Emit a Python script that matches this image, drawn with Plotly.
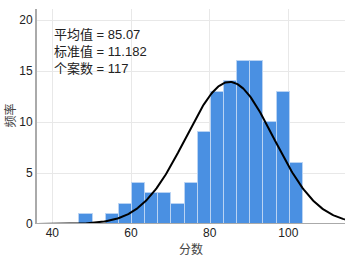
import numpy as np
import plotly.graph_objects as go

# Histogram data
bin_start = 46.9
bin_width = 3.34
counts = [1, 0, 1, 2, 4, 3, 3, 2, 4, 9, 13, 14, 16, 16, 10, 13, 6]

mean_val = 85.07
sd_val = 11.182
n_cases = 117

x_ticks = [40, 60, 80, 100]
y_ticks = [0, 5, 10, 15, 20]

centers = [bin_start + bin_width * (i + 0.5) for i in range(len(counts))]

# Normal curve scaled to histogram
xc = np.linspace(36.1, 114.4, 300)
yc = n_cases * bin_width / (sd_val * np.sqrt(2 * np.pi)) * np.exp(-0.5 * ((xc - mean_val) / sd_val) ** 2)

fig = go.Figure()
fig.add_trace(go.Bar(
    x=centers, y=counts, width=bin_width,
    marker=dict(color="#4a90e2", line=dict(color="#b9d3f3", width=1)),
    hoverinfo="skip",
))
fig.add_trace(go.Scatter(
    x=xc, y=yc, mode="lines",
    line=dict(color="black", width=2),
    hoverinfo="skip",
))

font_family = "Liberation Sans, Arial, Noto Sans CJK SC, sans-serif"

fig.update_layout(
    width=352, height=262,
    margin=dict(l=37, r=7, t=9, b=38, autoexpand=False),
    plot_bgcolor="white", paper_bgcolor="white",
    showlegend=False,
    bargap=0,
    font=dict(family=font_family, size=12, color="#222"),
    xaxis=dict(
        range=[36.1, 114.4], tickvals=x_ticks, showgrid=True, gridcolor="#e8e8e8",
        zeroline=False, showline=False, ticks="", automargin=False,
        tickfont=dict(size=12, color="#222"),
    ),
    yaxis=dict(
        range=[0, 21.1], tickvals=y_ticks, showgrid=True, gridcolor="#e8e8e8",
        zeroline=False, showline=True, linecolor="#aaaaaa", linewidth=2, ticks="",
        automargin=False,
        tickfont=dict(size=12, color="#222"),
    ),
    annotations=[
        dict(
            xref="paper", yref="paper", x=0.048, y=0.925, xanchor="left", yanchor="top",
            align="left", showarrow=False,
            text=f"平均值 = {mean_val:.2f}<br>标准值 = {sd_val:.3f}<br>个案数 = {n_cases}",
            font=dict(size=13, color="#222", family=font_family),
        ),
        dict(
            xref="paper", yref="paper", x=0.5, y=-0.075, xanchor="center", yanchor="top",
            showarrow=False, text="分数",
            font=dict(size=12, color="#444", family=font_family),
        ),
        dict(
            xref="paper", yref="paper", x=-0.118, y=0.505, xanchor="left", yanchor="middle",
            showarrow=False, text="频率", textangle=-90,
            font=dict(size=12, color="#444", family=font_family),
        ),
    ],
    shapes=[dict(type="line", xref="paper", yref="y", x0=0, x1=1, y0=0, y1=0,
                 line=dict(color="#aaaaaa", width=2))],
)

fig.write_html("out.html", config={"displayModeBar": False},
               post_script="document.body.style.margin='0';")
